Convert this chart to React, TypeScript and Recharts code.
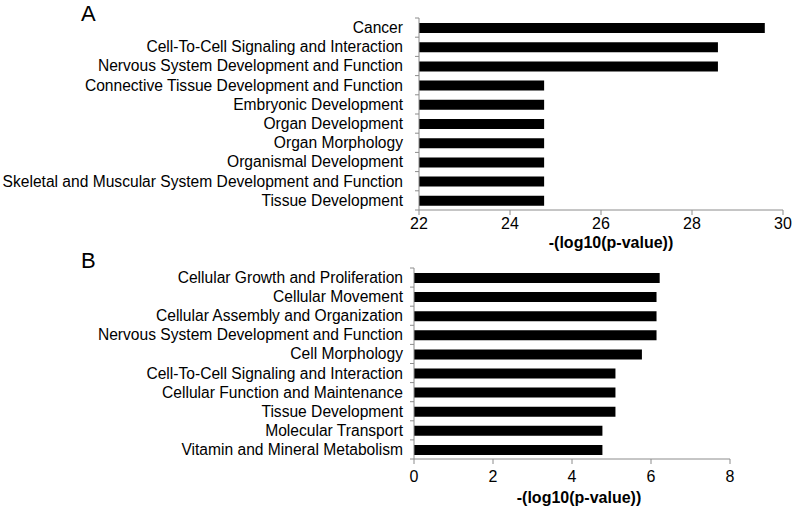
import * as React from 'react';
import { BarChart, Bar, XAxis, YAxis } from 'recharts';

const categoriesA = [
  'Cancer',
  'Cell-To-Cell Signaling and Interaction',
  'Nervous System Development and Function',
  'Connective Tissue Development and Function',
  'Embryonic Development',
  'Organ Development',
  'Organ Morphology',
  'Organismal Development',
  'Skeletal and Muscular System Development and Function',
  'Tissue Development',
];
const valuesA = [29.6, 28.57, 28.57, 24.75, 24.75, 24.75, 24.75, 24.75, 24.75, 24.75];
const ticksA = [22, 24, 26, 28, 30];

const categoriesB = [
  'Cellular Growth and Proliferation',
  'Cellular Movement',
  'Cellular Assembly and Organization',
  'Nervous System Development and Function',
  'Cell Morphology',
  'Cell-To-Cell Signaling and Interaction',
  'Cellular Function and Maintenance',
  'Tissue Development',
  'Molecular Transport',
  'Vitamin and Mineral Metabolism',
];
const valuesB = [6.22, 6.14, 6.14, 6.14, 5.77, 5.1, 5.1, 5.1, 4.77, 4.77];
const ticksB = [0, 2, 4, 6, 8];

const axisTitle = '-(log10(p-value))';
const AXIS_COLOR = '#8c8c8c';
const FONT = 16;
const CAT_FONT = 15.6;

const dataA = categoriesA.map((name, i) => ({ name, value: valuesA[i] }));
const dataB = categoriesB.map((name, i) => ({ name, value: valuesB[i] }));

// category tick: label plus small marks at the band boundaries
const makeCatTick = (gap: number) => (props: any) => {
  const { x, y, payload, index } = props;
  const half = payload.offset || 0;
  return (
    <g>
      {index === 0 && (
        <line x1={x - 4} x2={x} y1={y - half} y2={y - half} stroke={AXIS_COLOR} />
      )}
      <line x1={x - 4} x2={x} y1={y + half} y2={y + half} stroke={AXIS_COLOR} />
      <text x={x - gap} y={y} dy="0.35em" textAnchor="end" fontSize={CAT_FONT} fill="#000">
        {payload.value}
      </text>
    </g>
  );
};

const PanelLetter: React.FC<{ letter: string; top: number }> = ({ letter, top }) => (
  <div style={{ position: 'absolute', left: 81, top, fontSize: 22, lineHeight: '24px', color: '#000' }}>
    {letter}
  </div>
);

const App: React.FC = () => {
  return (
    <div
      style={{
        position: 'absolute',
        left: 0,
        top: 0,
        width: 794,
        height: 508,
        background: '#fff',
        fontFamily: '"Liberation Sans", Arial, sans-serif',
      }}
    >
      <div style={{ position: 'absolute', left: 0, top: 0 }}>
        <BarChart
          width={794}
          height={258}
          data={dataA}
          layout="vertical"
          margin={{ top: 18, right: 11, left: 0, bottom: 0 }}
        >
          <XAxis
            type="number"
            domain={[22, 30]}
            ticks={ticksA}
            height={48}
            stroke={AXIS_COLOR}
            tickSize={5}
            tickMargin={3}
            tick={{ fill: '#000', fontSize: FONT }}
            label={{ value: axisTitle, position: 'insideBottom', offset: 10, dx: 10, fill: '#000', fontSize: FONT, fontWeight: 'bold' }}
          />
          <YAxis
            type="category"
            dataKey="name"
            width={419}
            stroke={AXIS_COLOR}
            tickLine={false}
            tickSize={0}
            tickMargin={0}
            interval={0}
            tick={makeCatTick(16)}
          />
          <Bar dataKey="value" fill="#000" barSize={10} isAnimationActive={false} />
        </BarChart>
      </div>
      <div style={{ position: 'absolute', left: 0, top: 250 }}>
        <BarChart
          width={794}
          height={258}
          data={dataB}
          layout="vertical"
          margin={{ top: 18, right: 64, left: 0, bottom: 0 }}
        >
          <XAxis
            type="number"
            domain={[0, 8]}
            ticks={ticksB}
            height={49}
            stroke={AXIS_COLOR}
            tickSize={5}
            tickMargin={7}
            tick={{ fill: '#000', fontSize: FONT }}
            label={{ value: axisTitle, position: 'insideBottom', offset: 5, dx: 7, fill: '#000', fontSize: FONT, fontWeight: 'bold' }}
          />
          <YAxis
            type="category"
            dataKey="name"
            width={414}
            stroke={AXIS_COLOR}
            tickLine={false}
            tickSize={0}
            tickMargin={0}
            interval={0}
            tick={makeCatTick(11)}
          />
          <Bar dataKey="value" fill="#000" barSize={10} isAnimationActive={false} />
        </BarChart>
      </div>
      <PanelLetter letter="A" top={2} />
      <PanelLetter letter="B" top={249} />
    </div>
  );
};

export default App;
